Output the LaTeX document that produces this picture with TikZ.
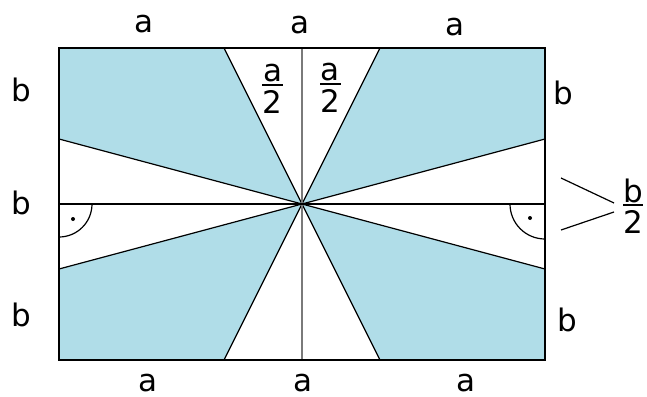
\documentclass[tikz,border=0pt]{standalone}
\usepackage{fontspec}
\setmainfont{DejaVu Sans}
\definecolor{sky}{HTML}{B0DDE8}
\definecolor{midgray}{HTML}{7A7A7A}
\begin{document}
\begin{tikzpicture}[x=1pt,y=-1pt,
  lbl/.style={inner sep=0pt,font=\fontsize{31}{37}\selectfont},
  ray/.style={line width=1.2pt,black},
  fbar/.style={line width=1.8pt,black},
  anglemark/.style={line width=1.2pt,black}]
\useasboundingbox (0,0) rectangle (647,396);
% key points
\coordinate (C) at (302,204);
\coordinate (TL) at (59,48);
\coordinate (TR) at (545,48);
\coordinate (BR) at (545,360);
\coordinate (BL) at (59,360);
\coordinate (T1) at (224,48);
\coordinate (T2) at (380,48);
\coordinate (B1) at (224,360);
\coordinate (B2) at (380,360);
\coordinate (L1) at (59,139);
\coordinate (L2) at (59,269);
\coordinate (R1) at (545,139);
\coordinate (R2) at (545,269);
\coordinate (ML) at (59,204);
\coordinate (MR) at (545,204);
\coordinate (MT) at (302,48);
\coordinate (MB) at (302,360);
% shaded sectors
\fill[sky] (TL)--(T1)--(C)--(L1)--cycle;
\fill[sky] (T2)--(TR)--(R1)--(C)--cycle;
\fill[sky] (L2)--(C)--(B1)--(BL)--cycle;
\fill[sky] (C)--(R2)--(BR)--(B2)--cycle;
% rays
\draw[ray] (T1)--(B2);
\draw[ray] (T2)--(B1);
\draw[ray] (L1)--(R2);
\draw[ray] (L2)--(R1);
\draw[line width=1.4pt,midgray] (MT)--(MB);
\draw[line width=2pt,black] (ML)--(MR);
% right-angle marks
\draw[anglemark] (92,204) arc[start angle=0,end angle=-90,radius=33pt];
\draw[anglemark] (510,204) arc[start angle=180,end angle=270,radius=35pt];
\fill (73,219) circle[radius=2pt];
\fill (530,218) circle[radius=2pt];
% rectangle
\draw[line width=2.4pt,black] (TL) rectangle (BR);
% side labels
\node[lbl] (at1) at (144,24) {a};
\node[lbl] (at2) at (300,25) {a};
\node[lbl] (at3) at (455,27) {a};
\node[lbl] (ab1) at (148,383) {a};
\node[lbl] (ab2) at (303,383) {a};
\node[lbl] (ab3) at (466,383) {a};
\node[lbl] (bl1) at (21,90) {b};
\node[lbl] (bl2) at (21,203) {b};
\node[lbl] (bl3) at (21,315) {b};
\node[lbl] (br1) at (563,93) {b};
\node[lbl] (br2) at (567,320) {b};
% fractions a/2
\node[lbl] (fan1) at (272.5,73.5) {a};
\draw[fbar] (262,85)--(283,85);
\node[lbl] (fad1) at (272.5,101.5) {2};
\node[lbl] (fan2) at (330,72.5) {a};
\draw[fbar] (320,84)--(341,84);
\node[lbl] (fad2) at (330,100.5) {2};
% fraction b/2 with brace lines
\node[lbl] (fbn) at (633,190.5) {b};
\draw[fbar] (623,205)--(643,205);
\node[lbl] (fbd) at (633,221.5) {2};
\draw[ray] (561,178)--(614,203);
\draw[ray] (614,212)--(561,230);
\end{tikzpicture}
\end{document}
